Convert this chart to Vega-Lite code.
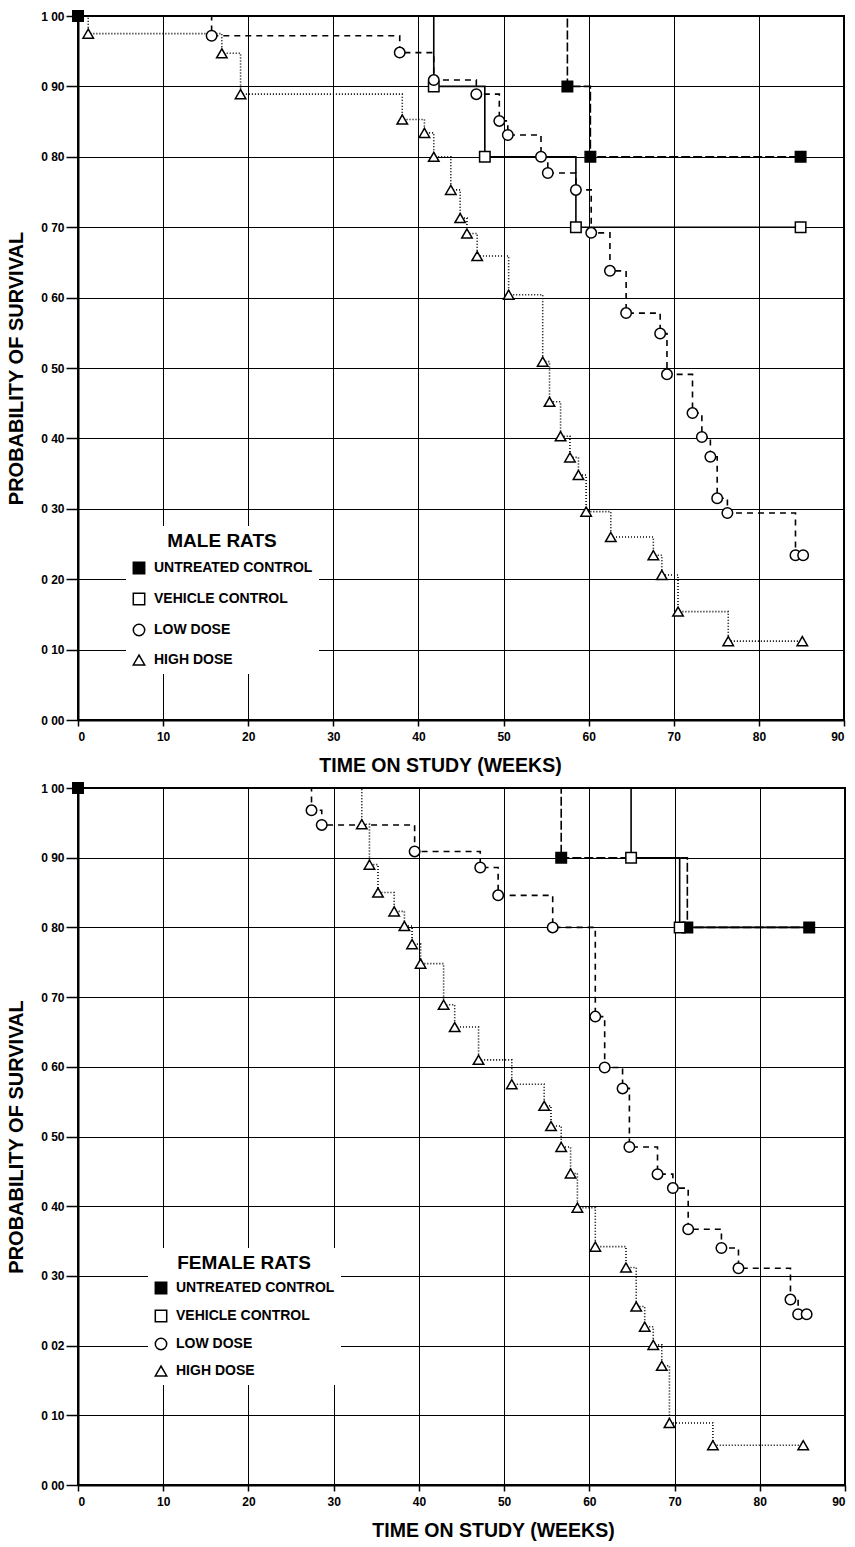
{
  "$schema": "https://vega.github.io/schema/vega-lite/v6.json",
  "background": "white",
  "padding": {"left": 5, "top": 6, "right": 5, "bottom": 5},
  "spacing": 2,
  "config": {
    "view": {"stroke": "black", "strokeWidth": 2},
    "font": "Liberation Sans",
    "axis": {"grid": true, "labelFont": "Liberation Sans", "labelFontWeight": "bold", "labelFontSize": 12, "labelColor": "black", "titleFont": "Liberation Sans", "titleFontWeight": "bold", "titleFontSize": 20, "titleColor": "black", "domainColor": "black", "domainWidth": 2, "tickColor": "black", "tickWidth": 1.5, "gridColor": "black", "gridWidth": 1, "gridOpacity": 1},
    "axisX": {"tickSize": 6, "labelPadding": 5, "titlePadding": 14, "titleFontSize": 19.5},
    "axisY": {"tickSize": 12, "labelPadding": 2, "titlePadding": 14}
  },
  "datasets": {
    "surv": [
      {"s": "M", "g": "UNTREATED CONTROL", "w": 0, "p": 1.0, "m": 1},
      {"s": "M", "g": "UNTREATED CONTROL", "w": 57.5, "p": 0.90, "m": 1},
      {"s": "M", "g": "UNTREATED CONTROL", "w": 60.2, "p": 0.80, "m": 1},
      {"s": "M", "g": "UNTREATED CONTROL", "w": 84.9, "p": 0.80, "m": 1},
      {"s": "M", "g": "VEHICLE CONTROL", "w": 0, "p": 1.0, "m": 0},
      {"s": "M", "g": "VEHICLE CONTROL", "w": 41.8, "p": 0.90, "m": 1},
      {"s": "M", "g": "VEHICLE CONTROL", "w": 47.8, "p": 0.80, "m": 1},
      {"s": "M", "g": "VEHICLE CONTROL", "w": 58.5, "p": 0.70, "m": 1},
      {"s": "M", "g": "VEHICLE CONTROL", "w": 84.9, "p": 0.70, "m": 1},
      {"s": "M", "g": "LOW DOSE", "w": 0, "p": 1.0, "m": 0},
      {"s": "M", "g": "LOW DOSE", "w": 15.7, "p": 0.972, "m": 1},
      {"s": "M", "g": "LOW DOSE", "w": 37.8, "p": 0.948, "m": 1},
      {"s": "M", "g": "LOW DOSE", "w": 41.8, "p": 0.909, "m": 1},
      {"s": "M", "g": "LOW DOSE", "w": 46.8, "p": 0.889, "m": 1},
      {"s": "M", "g": "LOW DOSE", "w": 49.5, "p": 0.851, "m": 1},
      {"s": "M", "g": "LOW DOSE", "w": 50.5, "p": 0.831, "m": 1},
      {"s": "M", "g": "LOW DOSE", "w": 54.4, "p": 0.80, "m": 1},
      {"s": "M", "g": "LOW DOSE", "w": 55.2, "p": 0.777, "m": 1},
      {"s": "M", "g": "LOW DOSE", "w": 58.5, "p": 0.753, "m": 1},
      {"s": "M", "g": "LOW DOSE", "w": 60.3, "p": 0.692, "m": 1},
      {"s": "M", "g": "LOW DOSE", "w": 62.5, "p": 0.638, "m": 1},
      {"s": "M", "g": "LOW DOSE", "w": 64.4, "p": 0.578, "m": 1},
      {"s": "M", "g": "LOW DOSE", "w": 68.4, "p": 0.549, "m": 1},
      {"s": "M", "g": "LOW DOSE", "w": 69.2, "p": 0.491, "m": 1},
      {"s": "M", "g": "LOW DOSE", "w": 72.2, "p": 0.436, "m": 1},
      {"s": "M", "g": "LOW DOSE", "w": 73.3, "p": 0.402, "m": 1},
      {"s": "M", "g": "LOW DOSE", "w": 74.3, "p": 0.374, "m": 1},
      {"s": "M", "g": "LOW DOSE", "w": 75.1, "p": 0.315, "m": 1},
      {"s": "M", "g": "LOW DOSE", "w": 76.3, "p": 0.294, "m": 1},
      {"s": "M", "g": "LOW DOSE", "w": 84.3, "p": 0.234, "m": 1},
      {"s": "M", "g": "LOW DOSE", "w": 85.2, "p": 0.234, "m": 1},
      {"s": "M", "g": "HIGH DOSE", "w": 0, "p": 1.0, "m": 0},
      {"s": "M", "g": "HIGH DOSE", "w": 1.2, "p": 0.975, "m": 1},
      {"s": "M", "g": "HIGH DOSE", "w": 16.9, "p": 0.947, "m": 1},
      {"s": "M", "g": "HIGH DOSE", "w": 19.1, "p": 0.889, "m": 1},
      {"s": "M", "g": "HIGH DOSE", "w": 38.1, "p": 0.853, "m": 1},
      {"s": "M", "g": "HIGH DOSE", "w": 40.7, "p": 0.834, "m": 1},
      {"s": "M", "g": "HIGH DOSE", "w": 41.8, "p": 0.80, "m": 1},
      {"s": "M", "g": "HIGH DOSE", "w": 43.8, "p": 0.753, "m": 1},
      {"s": "M", "g": "HIGH DOSE", "w": 44.9, "p": 0.713, "m": 1},
      {"s": "M", "g": "HIGH DOSE", "w": 45.7, "p": 0.691, "m": 1},
      {"s": "M", "g": "HIGH DOSE", "w": 46.9, "p": 0.659, "m": 1},
      {"s": "M", "g": "HIGH DOSE", "w": 50.6, "p": 0.604, "m": 1},
      {"s": "M", "g": "HIGH DOSE", "w": 54.6, "p": 0.509, "m": 1},
      {"s": "M", "g": "HIGH DOSE", "w": 55.4, "p": 0.452, "m": 1},
      {"s": "M", "g": "HIGH DOSE", "w": 56.7, "p": 0.403, "m": 1},
      {"s": "M", "g": "HIGH DOSE", "w": 57.8, "p": 0.373, "m": 1},
      {"s": "M", "g": "HIGH DOSE", "w": 58.8, "p": 0.348, "m": 1},
      {"s": "M", "g": "HIGH DOSE", "w": 59.7, "p": 0.296, "m": 1},
      {"s": "M", "g": "HIGH DOSE", "w": 62.6, "p": 0.260, "m": 1},
      {"s": "M", "g": "HIGH DOSE", "w": 67.6, "p": 0.234, "m": 1},
      {"s": "M", "g": "HIGH DOSE", "w": 68.6, "p": 0.206, "m": 1},
      {"s": "M", "g": "HIGH DOSE", "w": 70.5, "p": 0.154, "m": 1},
      {"s": "M", "g": "HIGH DOSE", "w": 76.4, "p": 0.112, "m": 1},
      {"s": "M", "g": "HIGH DOSE", "w": 85.1, "p": 0.112, "m": 1},
      {"s": "F", "g": "UNTREATED CONTROL", "w": 0, "p": 1.0, "m": 1},
      {"s": "F", "g": "UNTREATED CONTROL", "w": 56.7, "p": 0.90, "m": 1},
      {"s": "F", "g": "UNTREATED CONTROL", "w": 71.5, "p": 0.80, "m": 1},
      {"s": "F", "g": "UNTREATED CONTROL", "w": 85.8, "p": 0.80, "m": 1},
      {"s": "F", "g": "VEHICLE CONTROL", "w": 0, "p": 1.0, "m": 0},
      {"s": "F", "g": "VEHICLE CONTROL", "w": 64.9, "p": 0.90, "m": 1},
      {"s": "F", "g": "VEHICLE CONTROL", "w": 70.6, "p": 0.80, "m": 1},
      {"s": "F", "g": "VEHICLE CONTROL", "w": 85.8, "p": 0.80, "m": 0},
      {"s": "F", "g": "LOW DOSE", "w": 0, "p": 1.0, "m": 0},
      {"s": "F", "g": "LOW DOSE", "w": 27.4, "p": 0.968, "m": 1},
      {"s": "F", "g": "LOW DOSE", "w": 28.6, "p": 0.947, "m": 1},
      {"s": "F", "g": "LOW DOSE", "w": 39.5, "p": 0.909, "m": 1},
      {"s": "F", "g": "LOW DOSE", "w": 47.2, "p": 0.886, "m": 1},
      {"s": "F", "g": "LOW DOSE", "w": 49.3, "p": 0.846, "m": 1},
      {"s": "F", "g": "LOW DOSE", "w": 55.7, "p": 0.80, "m": 1},
      {"s": "F", "g": "LOW DOSE", "w": 60.7, "p": 0.672, "m": 1},
      {"s": "F", "g": "LOW DOSE", "w": 61.8, "p": 0.599, "m": 1},
      {"s": "F", "g": "LOW DOSE", "w": 63.9, "p": 0.569, "m": 1},
      {"s": "F", "g": "LOW DOSE", "w": 64.7, "p": 0.485, "m": 1},
      {"s": "F", "g": "LOW DOSE", "w": 68.0, "p": 0.446, "m": 1},
      {"s": "F", "g": "LOW DOSE", "w": 69.8, "p": 0.426, "m": 1},
      {"s": "F", "g": "LOW DOSE", "w": 71.6, "p": 0.367, "m": 1},
      {"s": "F", "g": "LOW DOSE", "w": 75.5, "p": 0.340, "m": 1},
      {"s": "F", "g": "LOW DOSE", "w": 77.5, "p": 0.311, "m": 1},
      {"s": "F", "g": "LOW DOSE", "w": 83.6, "p": 0.266, "m": 1},
      {"s": "F", "g": "LOW DOSE", "w": 84.5, "p": 0.245, "m": 1},
      {"s": "F", "g": "LOW DOSE", "w": 85.5, "p": 0.245, "m": 1},
      {"s": "F", "g": "HIGH DOSE", "w": 0, "p": 1.0, "m": 0},
      {"s": "F", "g": "HIGH DOSE", "w": 33.3, "p": 0.948, "m": 1},
      {"s": "F", "g": "HIGH DOSE", "w": 34.2, "p": 0.890, "m": 1},
      {"s": "F", "g": "HIGH DOSE", "w": 35.2, "p": 0.850, "m": 1},
      {"s": "F", "g": "HIGH DOSE", "w": 37.1, "p": 0.823, "m": 1},
      {"s": "F", "g": "HIGH DOSE", "w": 38.3, "p": 0.802, "m": 1},
      {"s": "F", "g": "HIGH DOSE", "w": 39.2, "p": 0.776, "m": 1},
      {"s": "F", "g": "HIGH DOSE", "w": 40.2, "p": 0.748, "m": 1},
      {"s": "F", "g": "HIGH DOSE", "w": 42.9, "p": 0.689, "m": 1},
      {"s": "F", "g": "HIGH DOSE", "w": 44.2, "p": 0.657, "m": 1},
      {"s": "F", "g": "HIGH DOSE", "w": 47.0, "p": 0.610, "m": 1},
      {"s": "F", "g": "HIGH DOSE", "w": 50.9, "p": 0.575, "m": 1},
      {"s": "F", "g": "HIGH DOSE", "w": 54.7, "p": 0.544, "m": 1},
      {"s": "F", "g": "HIGH DOSE", "w": 55.5, "p": 0.515, "m": 1},
      {"s": "F", "g": "HIGH DOSE", "w": 56.7, "p": 0.485, "m": 1},
      {"s": "F", "g": "HIGH DOSE", "w": 57.8, "p": 0.447, "m": 1},
      {"s": "F", "g": "HIGH DOSE", "w": 58.6, "p": 0.398, "m": 1},
      {"s": "F", "g": "HIGH DOSE", "w": 60.7, "p": 0.342, "m": 1},
      {"s": "F", "g": "HIGH DOSE", "w": 64.3, "p": 0.312, "m": 1},
      {"s": "F", "g": "HIGH DOSE", "w": 65.5, "p": 0.256, "m": 1},
      {"s": "F", "g": "HIGH DOSE", "w": 66.5, "p": 0.227, "m": 1},
      {"s": "F", "g": "HIGH DOSE", "w": 67.5, "p": 0.201, "m": 1},
      {"s": "F", "g": "HIGH DOSE", "w": 68.5, "p": 0.171, "m": 1},
      {"s": "F", "g": "HIGH DOSE", "w": 69.4, "p": 0.089, "m": 1},
      {"s": "F", "g": "HIGH DOSE", "w": 74.5, "p": 0.057, "m": 1},
      {"s": "F", "g": "HIGH DOSE", "w": 85.1, "p": 0.057, "m": 1}
    ]
  },
  "resolve": {
    "scale": {"shape": "independent", "fill": "independent", "stroke": "independent", "strokeDash": "independent"},
    "legend": {"shape": "independent", "fill": "independent", "stroke": "independent"}
  },
  "vconcat": [
    {
      "width": 766,
      "height": 704,
      "data": {"name": "surv"},
      "transform": [{"filter": "datum.s == 'M'"}],
      "encoding": {
        "x": {"field": "w", "type": "quantitative", "scale": {"domain": [0, 90], "nice": false}, "axis": {"values": [0, 10, 20, 30, 40, 50, 60, 70, 80, 90], "title": "TIME ON STUDY (WEEKS)", "titleX": 362}},
        "y": {"field": "p", "type": "quantitative", "scale": {"domain": [0, 1], "nice": false}, "axis": {"values": [0, 0.1, 0.2, 0.3, 0.4, 0.5, 0.6, 0.7, 0.8, 0.9, 1], "labelExpr": "replace(format(datum.value, '.2f'), '.', ' ')", "title": "PROBABILITY OF SURVIVAL"}}
      },
      "layer": [
        {
          "mark": {"type": "line", "interpolate": "step-after", "color": "black", "strokeWidth": 1.6},
          "encoding": {
            "detail": {"field": "g"},
            "order": {"field": "w"},
            "strokeDash": {"field": "g", "type": "nominal", "scale": {"range": [[1, 2], [6, 5], [9, 3], [1, 0]]}, "legend": null}
          }
        },
        {
          "transform": [{"filter": "datum.m == 1"}],
          "mark": {"type": "point", "filled": true, "strokeWidth": 1.5, "size": 110, "opacity": 1},
          "encoding": {
            "shape": {"field": "g", "type": "nominal", "scale": {"domain": ["UNTREATED CONTROL", "VEHICLE CONTROL", "LOW DOSE", "HIGH DOSE"], "range": ["square", "square", "circle", "triangle-up"]},
              "legend": {"title": "MALE RATS", "orient": "none", "legendX": 48, "legendY": 510, "fillColor": "white", "padding": 6, "titleFont": "Liberation Sans", "titleFontSize": 19, "titleFontWeight": "bold", "titleColor": "black", "titleAnchor": "middle", "titlePadding": 10, "labelFont": "Liberation Sans", "labelFontSize": 14, "labelFontWeight": "bold", "labelColor": "black", "labelOffset": 8, "labelLimit": 300, "symbolSize": 130, "symbolStrokeWidth": 1.5, "rowPadding": 13, "encode": {"title": {"update": {"dx": {"value": -10}}}}}},
            "fill": {"field": "g", "type": "nominal", "scale": {"domain": ["UNTREATED CONTROL", "VEHICLE CONTROL", "LOW DOSE", "HIGH DOSE"], "range": ["black", "white", "white", "white"]},
              "legend": {"title": "MALE RATS", "orient": "none", "legendX": 48, "legendY": 510, "fillColor": "white", "padding": 6, "titleFont": "Liberation Sans", "titleFontSize": 19, "titleFontWeight": "bold", "titleColor": "black", "titleAnchor": "middle", "titlePadding": 10, "labelFont": "Liberation Sans", "labelFontSize": 14, "labelFontWeight": "bold", "labelColor": "black", "labelOffset": 8, "labelLimit": 300, "symbolSize": 130, "symbolStrokeWidth": 1.5, "rowPadding": 13, "encode": {"title": {"update": {"dx": {"value": -10}}}}}},
            "stroke": {"field": "g", "type": "nominal", "scale": {"domain": ["UNTREATED CONTROL", "VEHICLE CONTROL", "LOW DOSE", "HIGH DOSE"], "range": ["black", "black", "black", "black"]},
              "legend": {"title": "MALE RATS", "orient": "none", "legendX": 48, "legendY": 510, "fillColor": "white", "padding": 6, "titleFont": "Liberation Sans", "titleFontSize": 19, "titleFontWeight": "bold", "titleColor": "black", "titleAnchor": "middle", "titlePadding": 10, "labelFont": "Liberation Sans", "labelFontSize": 14, "labelFontWeight": "bold", "labelColor": "black", "labelOffset": 8, "labelLimit": 300, "symbolSize": 130, "symbolStrokeWidth": 1.5, "rowPadding": 13, "encode": {"title": {"update": {"dx": {"value": -10}}}}}}
          }
        }
      ]
    },
    {
      "width": 767,
      "height": 697,
      "data": {"name": "surv"},
      "transform": [{"filter": "datum.s == 'F'"}],
      "encoding": {
        "x": {"field": "w", "type": "quantitative", "scale": {"domain": [0, 90], "nice": false}, "axis": {"values": [0, 10, 20, 30, 40, 50, 60, 70, 80, 90], "title": "TIME ON STUDY (WEEKS)", "titleX": 415}},
        "y": {"field": "p", "type": "quantitative", "scale": {"domain": [0, 1], "nice": false}, "axis": {"values": [0, 0.1, 0.2, 0.3, 0.4, 0.5, 0.6, 0.7, 0.8, 0.9, 1], "labelExpr": "abs(datum.value - 0.2) < 0.001 ? '0 02' : replace(format(datum.value, '.2f'), '.', ' ')", "title": "PROBABILITY OF SURVIVAL"}}
      },
      "layer": [
        {
          "mark": {"type": "line", "interpolate": "step-after", "color": "black", "strokeWidth": 1.6},
          "encoding": {
            "detail": {"field": "g"},
            "order": {"field": "w"},
            "strokeDash": {"field": "g", "type": "nominal", "scale": {"range": [[1, 2], [6, 5], [9, 3], [1, 0]]}, "legend": null}
          }
        },
        {
          "transform": [{"filter": "datum.m == 1"}],
          "mark": {"type": "point", "filled": true, "strokeWidth": 1.5, "size": 110, "opacity": 1},
          "encoding": {
            "shape": {"field": "g", "type": "nominal", "scale": {"domain": ["UNTREATED CONTROL", "VEHICLE CONTROL", "LOW DOSE", "HIGH DOSE"], "range": ["square", "square", "circle", "triangle-up"]},
              "legend": {"title": "FEMALE RATS", "orient": "none", "legendX": 70, "legendY": 460, "fillColor": "white", "padding": 6, "titleFont": "Liberation Sans", "titleFontSize": 19, "titleFontWeight": "bold", "titleColor": "black", "titleAnchor": "middle", "titlePadding": 8, "labelFont": "Liberation Sans", "labelFontSize": 14, "labelFontWeight": "bold", "labelColor": "black", "labelOffset": 8, "labelLimit": 300, "symbolSize": 130, "symbolStrokeWidth": 1.5, "rowPadding": 10, "encode": {"title": {"update": {"dx": {"value": -6}}}}}},
            "fill": {"field": "g", "type": "nominal", "scale": {"domain": ["UNTREATED CONTROL", "VEHICLE CONTROL", "LOW DOSE", "HIGH DOSE"], "range": ["black", "white", "white", "white"]},
              "legend": {"title": "FEMALE RATS", "orient": "none", "legendX": 70, "legendY": 460, "fillColor": "white", "padding": 6, "titleFont": "Liberation Sans", "titleFontSize": 19, "titleFontWeight": "bold", "titleColor": "black", "titleAnchor": "middle", "titlePadding": 8, "labelFont": "Liberation Sans", "labelFontSize": 14, "labelFontWeight": "bold", "labelColor": "black", "labelOffset": 8, "labelLimit": 300, "symbolSize": 130, "symbolStrokeWidth": 1.5, "rowPadding": 10, "encode": {"title": {"update": {"dx": {"value": -6}}}}}},
            "stroke": {"field": "g", "type": "nominal", "scale": {"domain": ["UNTREATED CONTROL", "VEHICLE CONTROL", "LOW DOSE", "HIGH DOSE"], "range": ["black", "black", "black", "black"]},
              "legend": {"title": "FEMALE RATS", "orient": "none", "legendX": 70, "legendY": 460, "fillColor": "white", "padding": 6, "titleFont": "Liberation Sans", "titleFontSize": 19, "titleFontWeight": "bold", "titleColor": "black", "titleAnchor": "middle", "titlePadding": 8, "labelFont": "Liberation Sans", "labelFontSize": 14, "labelFontWeight": "bold", "labelColor": "black", "labelOffset": 8, "labelLimit": 300, "symbolSize": 130, "symbolStrokeWidth": 1.5, "rowPadding": 10, "encode": {"title": {"update": {"dx": {"value": -6}}}}}}
          }
        }
      ]
    }
  ]
}
